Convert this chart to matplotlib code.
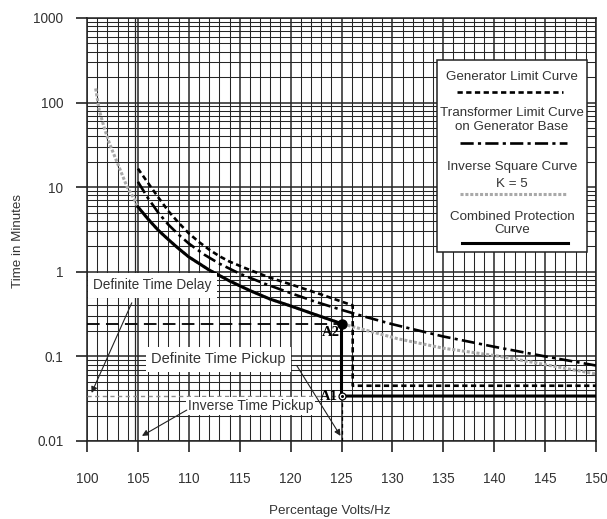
import numpy as np
import matplotlib
matplotlib.use("Agg")
import matplotlib.pyplot as plt
from matplotlib.ticker import MultipleLocator, LogLocator, FixedLocator, NullFormatter
from matplotlib.patches import Rectangle
from matplotlib.lines import Line2D

plt.rcParams['font.family'] = ['Liberation Sans', 'DejaVu Sans']

# ---------------- data ----------------
x_ticks = [100, 105, 110, 115, 120, 125, 130, 135, 140, 145, 150]
y_ticks = [0.01, 0.1, 1, 10, 100, 1000]
y_tick_labels = ['0.01', '0.1', '1', '10', '100', '1000']

gen_pct = [105.0, 106.0, 107.0, 108.0, 109.0, 110.0, 111.0, 112.0, 113.0, 114.0,
           116.0, 118.0, 120.5, 123.0, 126.1, 126.1, 150.0]
gen_min = [16.6, 11.2, 7.6, 5.2, 3.8, 2.85, 2.25, 1.83, 1.53, 1.32,
           1.05, 0.85, 0.68, 0.54, 0.40, 0.045, 0.045]

trans_pct = [105.0, 106.0, 107.0, 108.0, 109.0, 110.0, 111.5, 113.0, 115.0, 117.5,
             120.0, 122.5, 125.0, 127.5, 130.0, 135.0, 140.0, 145.0, 150.0]
trans_min = [11.6, 7.4, 5.0, 3.6, 2.75, 2.16, 1.6, 1.25, 0.95, 0.72,
             0.56, 0.44, 0.355, 0.29, 0.24, 0.172, 0.13, 0.10, 0.078]

inv_pct = [100.85, 101.2, 101.7, 102.2, 103.15, 103.95, 104.6, 105.0, 106.0, 107.0,
           108.0, 109.0, 110.0, 112.0, 114.0, 116.0, 118.0, 120.0, 122.0, 125.0,
           130.5, 135.0, 140.6, 145.0, 150.0]
inv_min = [147, 81.5, 50, 33, 17.3, 10.0, 7.4, 5.85, 4.2, 3.1,
           2.4, 1.88, 1.5, 1.05, 0.78, 0.6, 0.475, 0.395, 0.325, 0.244,
           0.162, 0.125, 0.10, 0.08, 0.062]

comb_pct = [105.0, 106.0, 107.0, 108.0, 109.0, 110.0, 112.0, 114.0, 116.0, 118.0,
            120.0, 122.0, 125.0, 125.0, 150.0]
comb_min = [5.85, 4.2, 3.1, 2.4, 1.88, 1.5, 1.05, 0.78, 0.6, 0.475,
            0.395, 0.325, 0.244, 0.034, 0.034]

a2_pct, a2_min = 125.0, 0.244   # definite time delay point
a1_pct, a1_min = 125.0, 0.034   # definite time pickup point
y_floor = 0.01

# ---------------- figure ----------------
W, H = 607, 519
fig = plt.figure(figsize=(W / 100, H / 100), dpi=100)
L, R, T, B = 87, 596, 18, 441
ax = fig.add_axes([L / W, 1 - B / H, (R - L) / W, (B - T) / H])
ax.set_yscale('log')
ax.set_xlim(100, 150)
ax.set_ylim(0.01, 1000)

ax.xaxis.set_major_locator(FixedLocator(x_ticks))
ax.xaxis.set_minor_locator(MultipleLocator(1))
ax.yaxis.set_major_locator(FixedLocator(y_ticks))
ax.yaxis.set_minor_locator(LogLocator(base=10, subs=np.arange(2, 10)))
ax.yaxis.set_minor_formatter(NullFormatter())
ax.set_yticklabels(y_tick_labels)
ax.tick_params(which='major', direction='out', length=8, width=1.2, color='#222',
               labelsize=9.8, labelcolor='#333')
ax.tick_params(axis='x', which='major', pad=14)
ax.tick_params(axis='y', which='major', pad=9)
ax.tick_params(which='minor', length=0)

gc = '#262626'
ax.grid(which='minor', color=gc, lw=0.75, zorder=0)
ax.grid(which='major', color=gc, lw=1.1, zorder=0)
ax.axvline(104.68, color=gc, lw=0.9, zorder=0)
ax.set_axisbelow(True)
for s in ax.spines.values():
    s.set_color('#222')
    s.set_linewidth(1.1)

# ---------------- curves ----------------
ax.plot(inv_pct, inv_min, color='#a9a9a9', lw=2.2, ls=(0, (1, 0.6)), zorder=3)
ax.plot(gen_pct, gen_min, color='black', lw=1.9, ls=(0, (2.0, 1.3)), zorder=4)
ax.plot(trans_pct, trans_min, color='black', lw=1.9, ls=(0, (5, 1.6, 1.2, 1.6)), zorder=4)
ax.plot(comb_pct, comb_min, color='black', lw=2.2, zorder=5,
        solid_joinstyle='miter')

# definite time delay / pickup guides
ax.plot([100, a2_pct], [a2_min, a2_min], color='black', lw=1.3, ls=(0, (7, 3.5)), zorder=4)
ax.plot([100, a1_pct], [a1_min, a1_min], color='#8a8a8a', lw=1.0, ls=(0, (3, 2.5)), zorder=4)
ax.plot([a1_pct, a1_pct], [a1_min, y_floor], color='black', lw=0.9, ls=(0, (3, 2.5)), zorder=4)

ax.plot([a2_pct], [a2_min], 'o', ms=6.5, color='black', zorder=6)
ax.plot([a1_pct], [a1_min], 'o', ms=5, mfc='white', mec='black', mew=0.9, zorder=6)
ax.plot([a1_pct], [a1_min], 'o', ms=1.2, color='black', zorder=7)

serif = dict(family=['Liberation Serif', 'DejaVu Serif'], fontweight='bold', fontsize=10.5)
ax.text(124.8, 0.19, 'A2', ha='right', va='center', zorder=7, **serif)
ax.text(124.6, 0.034, 'A1', ha='right', va='center', zorder=7, **serif)

# ---------------- annotations ----------------
ax.text(106.4, 0.69, 'Definite Time Delay', ha='center', va='center', fontsize=9.8,
        color='#333', bbox=dict(boxstyle='square,pad=0.4', fc='white', ec='none'), zorder=6)
ax.text(106.3, 0.092, 'Definite Time Pickup', ha='left', va='center', fontsize=10.5,
        color='#333', bbox=dict(boxstyle='square,pad=0.35', fc='white', ec='none'), zorder=6)
ax.text(109.9, 0.0258, 'Inverse Time Pickup', ha='left', va='center', fontsize=10,
        color='#333', bbox=dict(boxstyle='square,pad=0.15', fc='white', ec='none'), zorder=6)

arr = dict(arrowstyle='-|>', lw=0.8, color='#222', mutation_scale=9, shrinkA=0, shrinkB=0)
ax.annotate('', xy=(100.45, 0.037), xytext=(104.4, 0.43), arrowprops=arr, zorder=7)
ax.annotate('', xy=(124.9, 0.0115), xytext=(120.6, 0.078), arrowprops=arr, zorder=7)
ax.annotate('', xy=(105.4, 0.0115), xytext=(109.8, 0.0232), arrowprops=arr, zorder=7)

# ---------------- legend box (drawn manually, axes fraction coords) ----------------
def fx(px):
    return (px - L) / (R - L)

def fy(py):
    return (B - py) / (B - T)

ax.add_patch(Rectangle((fx(437), fy(252)), fx(587) - fx(437), fy(60) - fy(252),
                       transform=ax.transAxes, fc='white', ec='#222', lw=1.1, zorder=8))
lt = dict(transform=ax.transAxes, ha='center', va='center', fontsize=9.6, color='#333',
          zorder=9)
for txt, yy in [('Generator Limit Curve', 77),
                ('Transformer Limit Curve', 113), ('on Generator Base', 127),
                ('Inverse Square Curve', 167), ('K = 5', 184),
                ('Combined Protection', 217), ('Curve', 230)]:
    ax.text(fx(512), fy(yy), txt, **lt)
for (x0, x1, yy, kw) in [
        (457, 563, 92, dict(color='black', lw=1.9, ls=(0, (2.0, 1.3)))),
        (460, 567, 143, dict(color='black', lw=1.9, ls=(0, (5, 1.6, 1.2, 1.6)))),
        (460, 567, 194, dict(color='#a9a9a9', lw=2.2, ls=(0, (1, 0.6)))),
        (462, 568, 243, dict(color='black', lw=2.2))]:
    ax.add_line(Line2D([fx(x0), fx(x1)], [fy(yy), fy(yy)], transform=ax.transAxes,
                       zorder=9, **kw))

# ---------------- axis labels ----------------
fig.text(18 / W, 1 - 241 / H, 'Time in Minutes', rotation=90, ha='center', va='center',
         fontsize=9.6, color='#333')
fig.text(330 / W, 1 - 511 / H, 'Percentage Volts/Hz', ha='center', va='center',
         fontsize=9.6, color='#333')

fig.savefig('out.png', dpi=100)
